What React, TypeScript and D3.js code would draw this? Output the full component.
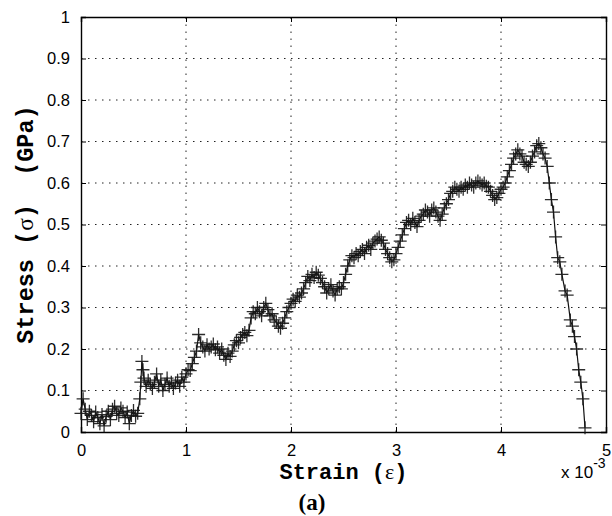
import React, { useRef, useEffect } from 'react';
import * as d3 from 'd3';

// strain values are in units of 10^-3
const strain: number[] = [
  0, 0.02, 0.04, 0.06, 0.08, 0.1, 0.12, 0.14, 0.16, 0.18, 0.2, 0.22, 0.24, 0.26,
  0.28, 0.3, 0.32, 0.34, 0.36, 0.38, 0.4, 0.42, 0.44, 0.46, 0.48, 0.5, 0.52, 0.54,
  0.56, 0.57, 0.58, 0.59, 0.6, 0.62, 0.64, 0.66, 0.68, 0.7, 0.72, 0.74, 0.76, 0.78,
  0.8, 0.82, 0.84, 0.86, 0.88, 0.9, 0.92, 0.94, 0.96, 0.98, 1.0,
  1.02, 1.04, 1.06, 1.08, 1.1, 1.12, 1.14, 1.16, 1.18, 1.2, 1.22, 1.24, 1.26, 1.28,
  1.3, 1.32, 1.34, 1.36, 1.38, 1.4, 1.42, 1.44, 1.46, 1.48, 1.5,
  1.52, 1.54, 1.56, 1.58, 1.6, 1.62, 1.64, 1.66, 1.68, 1.7, 1.72, 1.74, 1.76, 1.78,
  1.8, 1.82, 1.84, 1.86, 1.88, 1.9, 1.92, 1.94, 1.96, 1.98, 2.0,
  2.02, 2.04, 2.06, 2.08, 2.1, 2.12, 2.14, 2.16, 2.18, 2.2, 2.22, 2.24, 2.26, 2.28,
  2.3, 2.32, 2.34, 2.36, 2.38, 2.4, 2.42, 2.44, 2.46, 2.48, 2.5,
  2.52, 2.54, 2.56, 2.58, 2.6, 2.62, 2.64, 2.66, 2.68, 2.7, 2.72, 2.74, 2.76, 2.78,
  2.8, 2.82, 2.84, 2.86, 2.88, 2.9, 2.92, 2.94, 2.96, 2.98, 3.0,
  3.02, 3.04, 3.06, 3.08, 3.1, 3.12, 3.14, 3.16, 3.18, 3.2, 3.22, 3.24, 3.26, 3.28,
  3.3, 3.32, 3.34, 3.36, 3.38, 3.4, 3.42, 3.44, 3.46, 3.48, 3.5,
  3.52, 3.54, 3.56, 3.58, 3.6, 3.62, 3.64, 3.66, 3.68, 3.7, 3.72, 3.74, 3.76, 3.78,
  3.8, 3.82, 3.84, 3.86, 3.88, 3.9, 3.92, 3.94, 3.96, 3.98, 4.0,
  4.02, 4.04, 4.06, 4.08, 4.1, 4.12, 4.14, 4.16, 4.18, 4.2, 4.22, 4.24, 4.26, 4.28,
  4.3, 4.32, 4.34, 4.36, 4.38, 4.4, 4.42, 4.44, 4.46, 4.48, 4.5, 4.52, 4.54, 4.56,
  4.58, 4.61, 4.63, 4.66, 4.68, 4.7, 4.72, 4.74, 4.76, 4.78, 4.8,
];

// stress in GPa
const stress: number[] = [
  0.045, 0.08, 0.055, 0.03, 0.05, 0.04, 0.025, 0.048, 0.035, 0.02, 0.042, 0.015, 0.038, 0.05,
  0.03, 0.055, 0.062, 0.045, 0.04, 0.058, 0.05, 0.035, 0.048, 0.02, 0.04, 0.052, 0.038, 0.045,
  0.08, 0.12, 0.17, 0.15, 0.13, 0.11, 0.125, 0.115, 0.105, 0.12, 0.14, 0.11, 0.125, 0.1,
  0.115, 0.13, 0.11, 0.12, 0.105, 0.118, 0.125, 0.11, 0.132, 0.12, 0.14,
  0.15, 0.148, 0.165, 0.18, 0.195, 0.235, 0.215, 0.205, 0.195, 0.21, 0.2, 0.205, 0.212, 0.198,
  0.205, 0.19, 0.2, 0.185, 0.175, 0.19, 0.182, 0.195, 0.21, 0.22, 0.215,
  0.228, 0.235, 0.24, 0.232, 0.245, 0.275, 0.29, 0.285, 0.3, 0.29, 0.28, 0.3, 0.31, 0.295,
  0.28, 0.285, 0.27, 0.265, 0.255, 0.25, 0.262, 0.275, 0.29, 0.3, 0.31,
  0.32, 0.315, 0.33, 0.325, 0.335, 0.345, 0.36, 0.375, 0.365, 0.38, 0.372, 0.385, 0.378, 0.37,
  0.36, 0.35, 0.335, 0.345, 0.355, 0.34, 0.33, 0.345, 0.35, 0.345, 0.36,
  0.38, 0.4, 0.415, 0.425, 0.42, 0.43, 0.425, 0.435, 0.44, 0.43, 0.445, 0.45, 0.44, 0.455,
  0.46, 0.465, 0.47, 0.462, 0.455, 0.44, 0.43, 0.42, 0.41, 0.415, 0.43,
  0.445, 0.46, 0.475, 0.49, 0.505, 0.51, 0.5, 0.515, 0.505, 0.495, 0.51, 0.52, 0.525, 0.535,
  0.53, 0.52, 0.535, 0.54, 0.53, 0.52, 0.51, 0.525, 0.54, 0.55, 0.56,
  0.575, 0.58, 0.59, 0.585, 0.58, 0.59, 0.585, 0.595, 0.59, 0.6, 0.595, 0.59, 0.6, 0.605,
  0.6, 0.595, 0.6, 0.592, 0.59, 0.58, 0.57, 0.56, 0.565, 0.575, 0.585,
  0.59, 0.6, 0.615, 0.63, 0.645, 0.66, 0.67, 0.68, 0.67, 0.665, 0.65, 0.645, 0.64, 0.65,
  0.665, 0.675, 0.69, 0.695, 0.685, 0.67, 0.66, 0.64, 0.6, 0.56, 0.53, 0.47, 0.42, 0.41,
  0.38, 0.34, 0.33, 0.27, 0.255, 0.23, 0.2, 0.15, 0.12, 0.08, 0.01,
];

const xTicks = [0, 1, 2, 3, 4, 5];
const yTicks = [0, 0.1, 0.2, 0.3, 0.4, 0.5, 0.6, 0.7, 0.8, 0.9, 1];

const App: React.FC = () => {
  const svgRef = useRef<SVGSVGElement | null>(null);

  useEffect(() => {
    if (!svgRef.current) return;
    d3.select(svgRef.current).selectAll('*').remove();

    const width = 612;
    const height = 516;
    const left = 81;
    const right = 606;
    const top = 17;
    const bottom = 432;

    const svg = d3.select(svgRef.current).attr('width', width).attr('height', height);

    svg.append('rect').attr('width', width).attr('height', height).attr('fill', '#fff');

    const x = d3.scaleLinear().domain([0, 5]).range([left, right]);
    const y = d3.scaleLinear().domain([0, 1]).range([bottom, top]);

    // dotted grid
    const grid = svg.append('g').attr('stroke', '#222').attr('stroke-width', 1).attr('stroke-dasharray', '1.5,5.5');
    grid
      .selectAll('line.v')
      .data(xTicks.slice(1, -1))
      .join('line')
      .attr('x1', (d) => x(d))
      .attr('x2', (d) => x(d))
      .attr('y1', bottom)
      .attr('y2', top);
    grid
      .selectAll('line.h')
      .data(yTicks.slice(1, -1))
      .join('line')
      .attr('class', 'h')
      .attr('x1', left)
      .attr('x2', right)
      .attr('y1', (d) => y(d))
      .attr('y2', (d) => y(d));

    // axes, ticks pointing inward
    const font = 'Liberation Sans, Arial, sans-serif';
    const xAxis = svg
      .append('g')
      .attr('transform', `translate(0,${bottom})`)
      .call(d3.axisBottom(x).tickValues(xTicks).tickSize(-5).tickPadding(12).tickFormat(d3.format('d')));
    const yAxis = svg
      .append('g')
      .attr('transform', `translate(${left},0)`)
      .call(
        d3
          .axisLeft(y)
          .tickValues(yTicks)
          .tickSize(-5)
          .tickPadding(11)
          .tickFormat((d) => d3.format('')(+(+d).toFixed(1))),
      );
    svg
      .append('g')
      .attr('transform', `translate(0,${top})`)
      .call(d3.axisTop(x).tickValues(xTicks).tickSize(-5).tickFormat(() => ''));
    svg
      .append('g')
      .attr('transform', `translate(${right},0)`)
      .call(d3.axisRight(y).tickValues(yTicks).tickSize(-5).tickFormat(() => ''));

    svg.selectAll('.domain').attr('stroke', '#000').attr('stroke-width', 1.4);
    svg.selectAll('.tick line').attr('stroke', '#000');
    [xAxis, yAxis].forEach((a) =>
      a.selectAll('text').attr('font-family', font).attr('font-size', 16.5).attr('fill', '#000'),
    );

    // curve
    const pts: [number, number][] = strain.map((s, i) => [s, stress[i]]);
    const line = d3
      .line<[number, number]>()
      .x((d) => x(d[0]))
      .y((d) => y(d[1]));
    svg
      .append('path')
      .datum(pts)
      .attr('d', line)
      .attr('fill', 'none')
      .attr('stroke', '#111')
      .attr('stroke-width', 1.2);

    const m = 6.5;
    svg
      .append('g')
      .selectAll('path')
      .data(pts)
      .join('path')
      .attr('d', (d) => {
        const cx = x(d[0]);
        const cy = y(d[1]);
        return `M${cx - m},${cy}H${cx + m}M${cx},${cy - m}V${cy + m}`;
      })
      .attr('stroke', '#161616')
      .attr('stroke-opacity', 0.9)
      .attr('stroke-width', 1.3);

    // labels
    const mono = 'Liberation Mono, Courier New, monospace';
    const xl = svg
      .append('text')
      .attr('x', (left + right) / 2)
      .attr('y', 479)
      .attr('text-anchor', 'middle')
      .attr('font-family', mono)
      .attr('font-weight', 'bold')
      .attr('font-size', 22);
    xl.append('tspan').text('Strain (');
    xl.append('tspan').attr('font-family', 'Liberation Serif, serif').attr('font-weight', 'normal').text('ε');
    xl.append('tspan').text(')');

    const yl = svg
      .append('text')
      .attr('transform', `translate(33,${(top + bottom) / 2}) rotate(-90)`)
      .attr('text-anchor', 'middle')
      .attr('font-family', mono)
      .attr('font-weight', 'bold')
      .attr('font-size', 23.5)
      .attr('xml:space', 'preserve');
    yl.append('tspan').text('Stress (');
    yl.append('tspan').attr('font-family', 'Liberation Serif, serif').attr('font-weight', 'normal').text('σ');
    yl.append('tspan').text(')  (GPa)');

    const ex = svg
      .append('text')
      .attr('x', 561)
      .attr('y', 478)
      .attr('font-family', font)
      .attr('font-size', 17);
    ex.append('tspan').text('x 10');
    ex.append('tspan').attr('dy', -10).attr('font-size', 14).text('-3');

    svg
      .append('text')
      .attr('x', 312)
      .attr('y', 510)
      .attr('text-anchor', 'middle')
      .attr('font-family', 'Liberation Serif, Times New Roman, serif')
      .attr('font-weight', 'bold')
      .attr('font-size', 23)
      .text('(a)');
  }, []);

  return <svg ref={svgRef} style={{ position: 'absolute', left: 0, top: 0 }}></svg>;
};

export default App;
